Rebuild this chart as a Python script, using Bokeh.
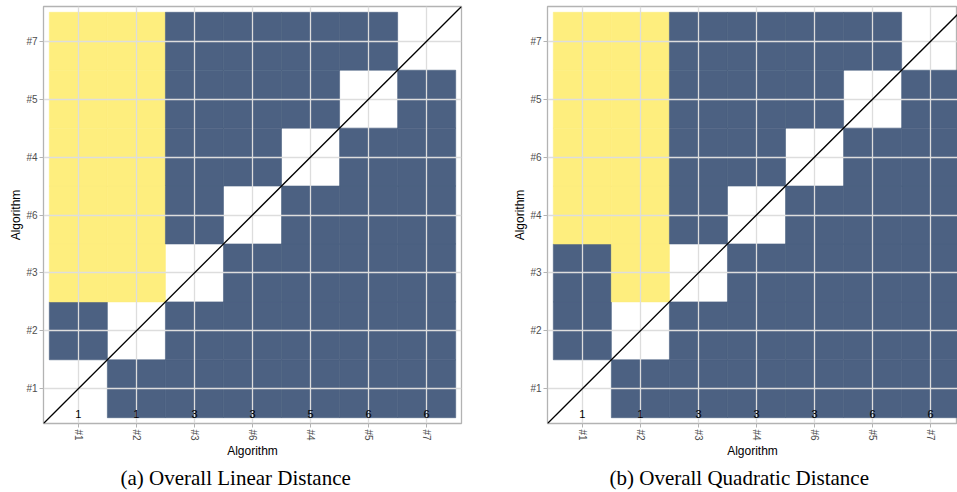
from bokeh.plotting import figure
from bokeh.layouts import row
from bokeh.models import Range1d, FixedTicker, Title
from bokeh.core.properties import value
from bokeh.embed import file_html
from bokeh.resources import INLINE

# ---- data -------------------------------------------------------------
# 0 = diagonal / empty, 1 = significant (blue), 2 = not significant (yellow)
left_algorithms = ["#1", "#2", "#3", "#6", "#4", "#5", "#7"]
left_matrix = [  # rows bottom -> top, columns left -> right
    [0, 1, 1, 1, 1, 1, 1],
    [1, 0, 1, 1, 1, 1, 1],
    [2, 2, 0, 1, 1, 1, 1],
    [2, 2, 1, 0, 1, 1, 1],
    [2, 2, 1, 1, 0, 1, 1],
    [2, 2, 1, 1, 1, 0, 1],
    [2, 2, 1, 1, 1, 1, 0],
]
left_ranks = [1, 1, 3, 3, 5, 6, 6]
left_caption = "(a) Overall Linear Distance"

right_algorithms = ["#1", "#2", "#3", "#4", "#6", "#5", "#7"]
right_matrix = [
    [0, 1, 1, 1, 1, 1, 1],
    [1, 0, 1, 1, 1, 1, 1],
    [1, 2, 0, 1, 1, 1, 1],
    [2, 2, 1, 0, 1, 1, 1],
    [2, 2, 1, 1, 0, 1, 1],
    [2, 2, 1, 1, 1, 0, 1],
    [2, 2, 1, 1, 1, 1, 0],
]
right_ranks = [1, 1, 3, 3, 3, 6, 6]
right_caption = "(b) Overall Quadratic Distance"

COLORS = {1: "#4C6182", 2: "#FEEE7E"}
SANS = "Liberation Sans"
FRAME_W = 418
FRAME_H = 417


def panel(algs, matrix, ranks, caption, frame_w, x_end, border_right, cap_offset):
    n = len(algs)
    xs, ys, cs = [], [], []
    for j, vals in enumerate(matrix):
        for i, v in enumerate(vals):
            if v:
                xs.append(i + 1)
                ys.append(j + 1)
                cs.append(COLORS[v])

    p = figure(frame_width=frame_w, frame_height=FRAME_H,
               x_range=Range1d(0.4, x_end), y_range=Range1d(0.4, n + 0.6),
               output_backend="svg", toolbar_location=None,
               min_border_left=43, min_border_right=border_right,
               min_border_top=6, min_border_bottom=0,
               x_axis_label="Algorithm", y_axis_label="Algorithm",
               background_fill_color="white", border_fill_color="white")
    p.outline_line_color = "#b3b3b3"
    p.outline_line_width = 1.3

    tiles = p.rect(x=xs, y=ys, width=1, height=1, fill_color=cs,
                   line_color=cs, line_width=0.6)
    tiles.level = "image"

    p.line([0.4, n + 0.6], [0.4, n + 0.6], line_color="black", line_width=1.3)

    p.text(x=list(range(1, n + 1)), y=[0.5] * n, text=[str(r) for r in ranks],
           text_align="center", text_baseline="bottom",
           text_font=value(SANS), text_font_size="11px", text_color="black")

    ticks = list(range(1, n + 1))
    for ax in (p.xaxis, p.yaxis):
        ax.ticker = FixedTicker(ticks=ticks)
        ax.major_label_overrides = {t: a for t, a in zip(ticks, algs)}
        ax.axis_line_color = None
        ax.major_tick_in = 0
        ax.major_tick_out = 4
        ax.major_tick_line_color = "#b3b3b3"
        ax.minor_tick_line_color = None
        ax.major_label_text_font = SANS
        ax.major_label_text_font_size = "10px"
        ax.major_label_text_color = "#4d4d4d"
        ax.axis_label_text_font = SANS
        ax.axis_label_text_font_size = "12px"
        ax.axis_label_text_font_style = "normal"
        ax.axis_label_text_color = "black"
        ax.axis_label_standoff = 0
        ax.major_label_standoff = 2
    p.xaxis.major_label_orientation = "vertical"

    p.grid.grid_line_color = "#dddddd"
    p.grid.grid_line_width = 1.3
    p.grid.minor_grid_line_color = None

    p.add_layout(Title(text=caption, align="left", text_font="Liberation Serif",
                       text_font_size="21px", text_font_style="normal",
                       text_color="black", offset=cap_offset, standoff=6),
                 "below")
    return p


left = panel(left_algorithms, left_matrix, left_ranks, left_caption,
             FRAME_W, 7.6, 43, 77)
# the reference crops the right panel at the window edge
right_w = 410
right = panel(right_algorithms, right_matrix, right_ranks, right_caption,
              right_w, 0.4 + right_w / FRAME_W * 7.2, 0, 62)

layout = row(left, right)
open("out.html", "w").write(file_html(layout, INLINE))
